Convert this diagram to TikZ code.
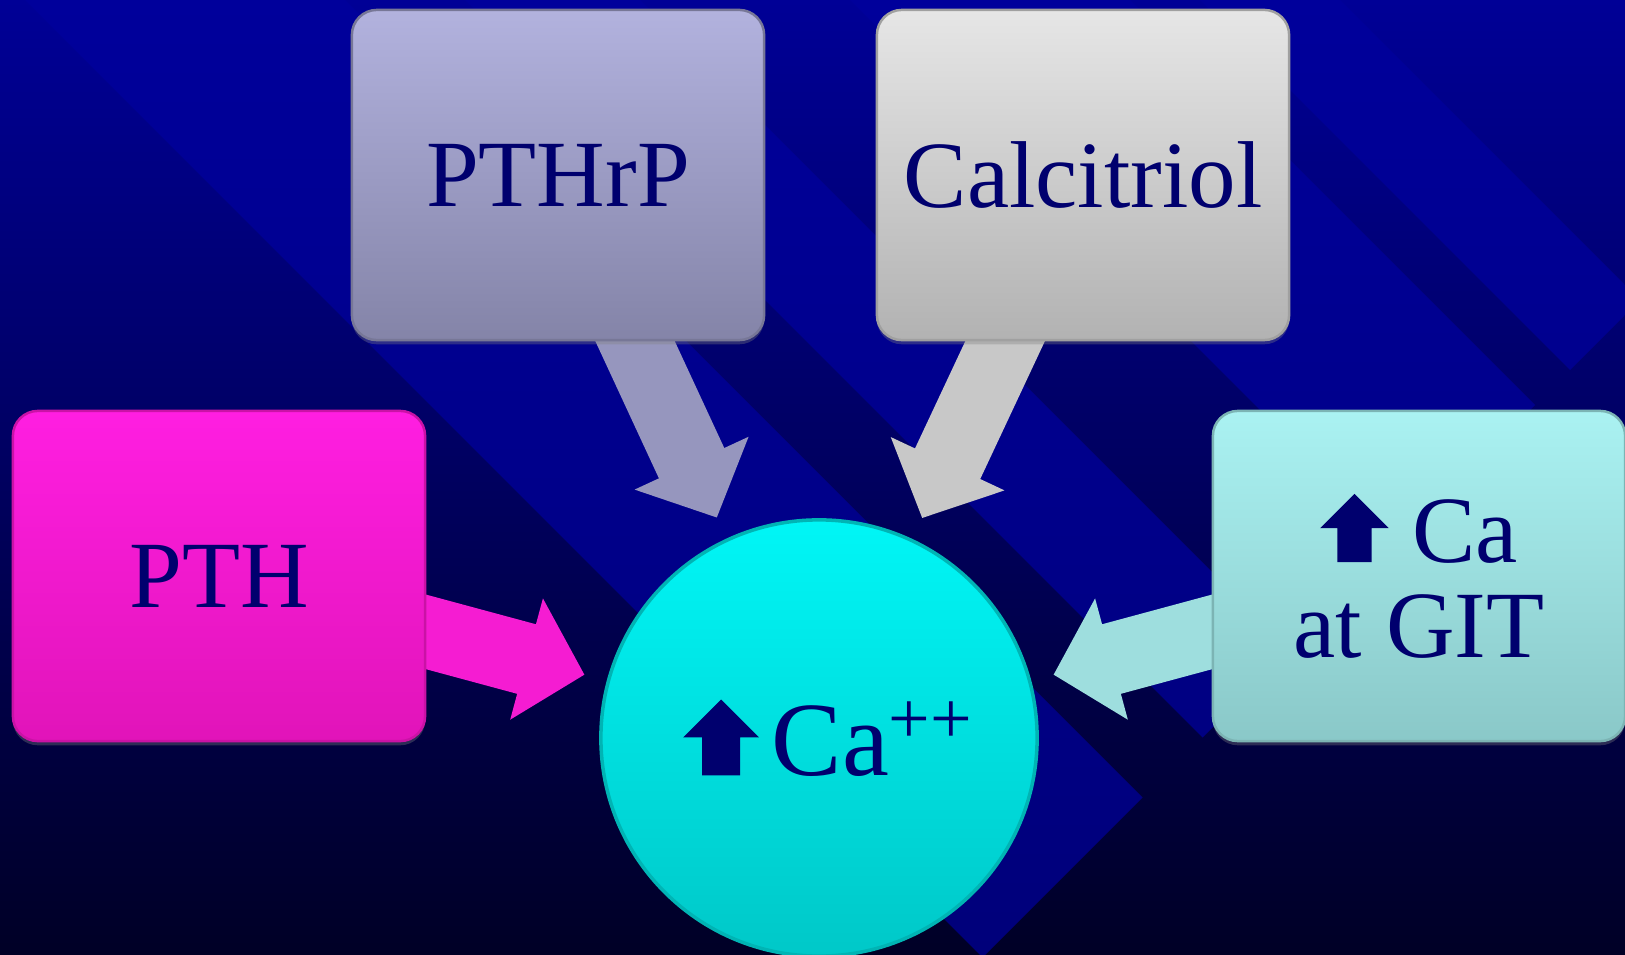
\documentclass[tikz,border=0pt]{standalone}
\usepackage{fontspec}
\setmainfont{Liberation Serif}
\usetikzlibrary{arrows.meta,shadows}

\definecolor{bgtop}{RGB}{0,0,150}
\definecolor{bgmid}{RGB}{0,0,95}
\definecolor{bgbot}{RGB}{0,0,38}
\definecolor{bandtop}{RGB}{0,0,155}
\definecolor{bandbot}{RGB}{0,0,122}
\definecolor{txtblue}{RGB}{0,0,110}

\definecolor{pthtop}{RGB}{255,30,225}
\definecolor{pthbot}{RGB}{225,20,185}
\definecolor{ptharr}{RGB}{245,28,210}
\definecolor{hrptop}{RGB}{178,178,222}
\definecolor{hrpbot}{RGB}{132,132,168}
\definecolor{hrparr}{RGB}{150,150,190}
\definecolor{caltop}{RGB}{230,230,230}
\definecolor{calbot}{RGB}{178,178,178}
\definecolor{calarr}{RGB}{200,200,200}
\definecolor{gittop}{RGB}{170,242,242}
\definecolor{gitbot}{RGB}{138,200,200}
\definecolor{gitarr}{RGB}{158,222,222}
\definecolor{catop}{RGB}{0,246,246}
\definecolor{cabot}{RGB}{0,200,200}

\pgfdeclarelayer{bg}
\pgfdeclarelayer{under}
\pgfsetlayers{bg,under,main}

% block up-arrow sitting on the baseline
\newcommand{\upblk}{\tikz[baseline=0pt]\fill[txtblue, draw=none, sharp corners]
  (0.18em,0pt) -- (0.54em,0pt) -- (0.54em,0.36em) -- (0.72em,0.36em)
  -- (0.36em,0.72em) -- (0pt,0.36em) -- (0.18em,0.36em) -- cycle;}

\tikzset{
  box/.style={rectangle, rounded corners=0.25cm, minimum width=4.12cm,
    minimum height=3.3cm, inner sep=0pt, text=txtblue, align=center,
    font=\fontsize{27}{27}\selectfont, line width=0.7pt,
    drop shadow={opacity=0.35, shadow xshift=0pt, shadow yshift=-1.2pt}},
  ball/.style={circle, minimum size=4.36cm, inner sep=0pt, text=txtblue,
    font=\fontsize{30}{30}\selectfont, top color=catop, bottom color=cabot,
    draw=cabot!90!black, line width=1pt},
  fat/.style={line width=0.72cm, -{Triangle[length=0.6cm,width=1.22cm]},
    shorten >=0.23cm}
}

\begin{document}
\begin{tikzpicture}[x=0.01cm, y=-0.01cm]
  \useasboundingbox (0,0) rectangle (1625,955);

  \begin{pgfonlayer}{bg}
    \shade[top color=bgtop, bottom color=bgbot, middle color=bgmid]
      (0,0) rectangle (1625,955);
    % diagonal bands, cut off along x+y=1940
    \begin{scope}
      \clip \foreach \a/\b in {25/345,465/640,850/1130,1200/1340} {
        (\a,0) -- (\b,0) -- ({(1940+\b)/2},{(1940-\b)/2})
        -- ({(1940+\a)/2},{(1940-\a)/2}) -- cycle };
      \shade[top color=bandtop, bottom color=bandbot] (0,0) rectangle (1625,955);
    \end{scope}
  \end{pgfonlayer}

  \node[box, top color=hrptop, bottom color=hrpbot, draw=hrpbot!90!black]
    (pthrp) at (558,175) {PTHrP};
  \node[box, top color=caltop, bottom color=calbot, draw=calbot!90!black]
    (calc) at (1083,175) {Calcitriol};
  \node[box, top color=pthtop, bottom color=pthbot, draw=pthbot!90!black]
    (pth) at (219,576) {PTH};
  \node[box, top color=gittop, bottom color=gitbot, draw=gitbot!90!black]
    (git) at (1419,576) {\upblk{} Ca\\at GIT};

  \node[ball] (ca) at (819,738)
    {\hspace{0.18em}\upblk\hspace{0.12em}Ca\textsuperscript{++}};

  \begin{pgfonlayer}{under}
    \draw[fat, hrparr] (pthrp.center) -- (ca);
    \draw[fat, calarr] (calc.center) -- (ca);
    \draw[fat, ptharr] (pth.center) -- (ca);
    \draw[fat, gitarr] (git.center) -- (ca);
  \end{pgfonlayer}
\end{tikzpicture}
\end{document}
